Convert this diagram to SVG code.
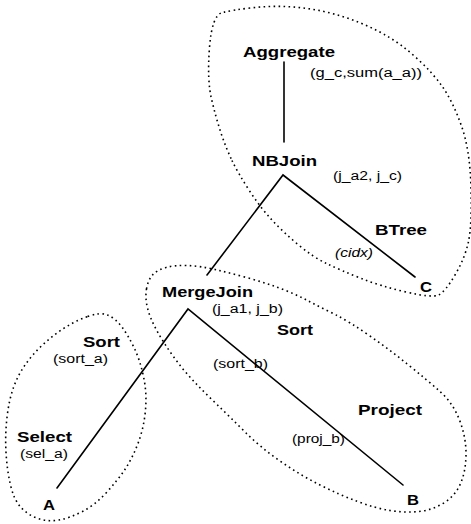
<svg xmlns="http://www.w3.org/2000/svg" width="471" height="524" viewBox="0 0 471 524">
<style>
.lbl{font-family:"Liberation Sans",Arial,sans-serif;font-weight:bold;font-size:15px;fill:#000}
.ann{font-family:"Liberation Sans",Arial,sans-serif;font-size:12px;fill:#000}
.it{font-style:italic}
.edge{stroke:#000;stroke-width:1.6;fill:none;stroke-linecap:round}
.region{stroke:#000;stroke-width:1.6;fill:none;stroke-dasharray:1.6 3.4}
</style>
<rect width="471" height="524" fill="#fff"/>
<g id="regions">
<path class="region" d="M 232,160.5 Q 238,173 249,190 Q 260,207 271.5,219.5 Q 283,232 298,244.5 Q 313,257 326.5,263.5 Q 340,270 360,278 Q 380,286 406,292 Q 432,298 438.5,295 Q 445,292 455,275 Q 465,258 468.5,241.5 Q 472,225 471,187.5 Q 470,150 461.5,126 Q 453,102 443,87.5 Q 433,73 416.5,58 Q 400,43 383.5,34 Q 367,25 350,19 Q 333,13 316.5,10 Q 300,7 283.5,6.5 Q 267,6 250,8 Q 233,10 222.5,12.5 Q 212,15 209.5,47.5 Q 207,80 211.5,99 Q 216,118 221,133 Q 226,148 232,160.5 Z"/>
<path class="region" d="M 146.5,289 Q 148,280 152.5,275 Q 157,270 166,267.5 Q 175,265 187.5,265.5 Q 200,266 215,269.5 Q 230,273 246.5,277.5 Q 263,282 278,287.5 Q 293,293 306.5,300 Q 320,307 335,314.5 Q 350,322 370,336 Q 390,350 408.5,365 Q 427,380 440,391.5 Q 453,403 459.5,420 Q 466,437 466,453.5 Q 466,470 461,482.5 Q 456,495 444.5,502.5 Q 433,510 419,511.5 Q 405,513 390,510.5 Q 375,508 357.5,501.5 Q 340,495 320,485 Q 300,475 280,461 Q 260,447 245,432 Q 230,417 217.5,405 Q 205,393 194,381.5 Q 183,370 173,356 Q 163,342 156.5,330 Q 150,318 147.5,308 Q 145,298 146.5,289 Z"/>
<path class="region" d="M 87.5,316.5 Q 100,312 107.5,315 Q 115,318 121.5,326.5 Q 128,335 134,347.5 Q 140,360 143.5,376.5 Q 147,393 145.5,410 Q 144,427 138.5,442 Q 133,457 125.5,468.5 Q 118,480 106.5,492.5 Q 95,505 82.5,511.5 Q 70,518 59,520 Q 48,522 38,518.5 Q 28,515 21,507.5 Q 14,500 10.5,485 Q 7,470 6,452.5 Q 5,435 7,417.5 Q 9,400 13.5,387.5 Q 18,375 25,365 Q 32,355 42,345.5 Q 52,336 63.5,328.5 Q 75,321 87.5,316.5 Z"/>
</g>
<g id="connectors">
<line class="edge" x1="284" y1="62" x2="284" y2="142"/>
<polyline class="edge" points="207,275 283,175 415,277"/>
<polyline class="edge" points="57,488 188,309 403,485"/>
</g>
<g id="aggregate">
<text class="lbl" x="243" y="57" textLength="92" lengthAdjust="spacingAndGlyphs">Aggregate</text>
<text class="ann" x="310" y="77" textLength="112" lengthAdjust="spacingAndGlyphs">(g_c,sum(a_a))</text>
</g>
<g id="nbjoin">
<text class="lbl" x="252" y="166" textLength="65" lengthAdjust="spacingAndGlyphs">NBJoin</text>
<text class="ann" x="333" y="180" textLength="69" lengthAdjust="spacingAndGlyphs">(j_a2, j_c)</text>
</g>
<g id="btree">
<text class="lbl" x="375" y="235" textLength="52" lengthAdjust="spacingAndGlyphs">BTree</text>
<text class="ann it" x="335" y="257" textLength="38" lengthAdjust="spacingAndGlyphs">(cidx)</text>
</g>
<g id="c"><text class="lbl" x="420" y="292" textLength="12" lengthAdjust="spacingAndGlyphs">C</text></g>
<g id="mergejoin">
<text class="lbl" x="162" y="297" textLength="91" lengthAdjust="spacingAndGlyphs">MergeJoin</text>
<text class="ann" x="212" y="313" textLength="71" lengthAdjust="spacingAndGlyphs">(j_a1, j_b)</text>
</g>
<g id="sort-b">
<text class="lbl" x="277" y="335" textLength="36" lengthAdjust="spacingAndGlyphs">Sort</text>
<text class="ann" x="213" y="368" textLength="55" lengthAdjust="spacingAndGlyphs">(sort_b)</text>
</g>
<g id="project">
<text class="lbl" x="358" y="415" textLength="64" lengthAdjust="spacingAndGlyphs">Project</text>
<text class="ann" x="292" y="443" textLength="53" lengthAdjust="spacingAndGlyphs">(proj_b)</text>
</g>
<g id="b"><text class="lbl" x="407" y="505" textLength="12" lengthAdjust="spacingAndGlyphs">B</text></g>
<g id="sort-a">
<text class="lbl" x="83" y="347" textLength="37" lengthAdjust="spacingAndGlyphs">Sort</text>
<text class="ann" x="53" y="363" textLength="55" lengthAdjust="spacingAndGlyphs">(sort_a)</text>
</g>
<g id="select">
<text class="lbl" x="17" y="442" textLength="55" lengthAdjust="spacingAndGlyphs">Select</text>
<text class="ann" x="20" y="458" textLength="48" lengthAdjust="spacingAndGlyphs">(sel_a)</text>
</g>
<g id="a"><text class="lbl" x="43" y="510" textLength="12" lengthAdjust="spacingAndGlyphs">A</text></g>
</svg>
